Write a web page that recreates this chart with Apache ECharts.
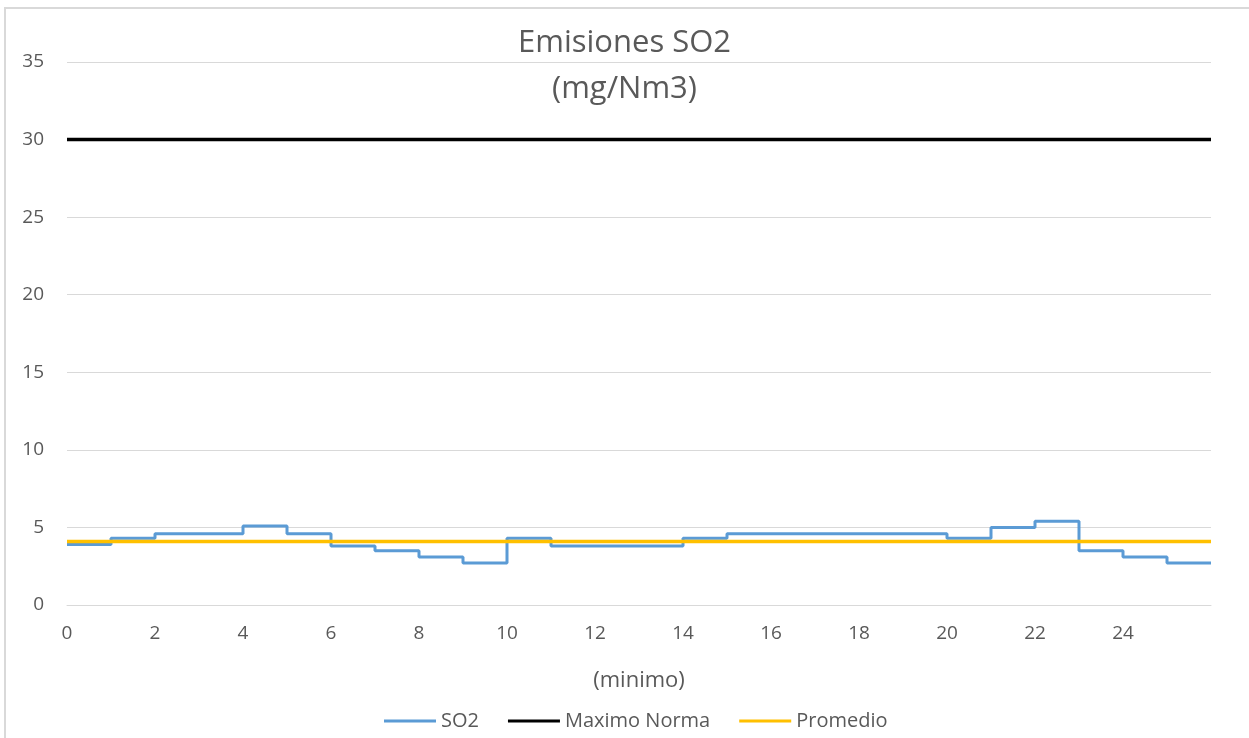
<!DOCTYPE html>
<html>
<head>
<meta charset="utf-8">
<script src="https://cdn.jsdelivr.net/npm/echarts@6/dist/echarts.min.js"></script>
<style>
html,body{margin:0;padding:0;background:#fff;}
#c{width:1249px;height:738px;}
</style>
</head>
<body>
<div id="c"></div>
<script>
// Data
const minutes = [0,1,2,3,4,5,6,7,8,9,10,11,12,13,14,15,16,17,18,19,20,21,22,23,24,25,26];
const so2 =     [3.9,4.3,4.6,4.6,5.1,4.6,3.8,3.5,3.1,2.7,4.3,3.8,3.8,3.8,4.3,4.6,4.6,4.6,4.6,4.6,4.3,5.0,5.4,3.5,3.1,2.7,2.7];
const maximoNorma = 30;
const promedio = 4.1;
const yTicks = [0,5,10,15,20,25,30,35];
const xStart = 0, xEnd = 26;

const font = '"Open Sans", Lato, sans-serif';
const chart = echarts.init(document.getElementById('c'));
chart.setOption({
  animation: false,
  backgroundColor: '#fff',
  graphic: [{
    type: 'rect', shape: {x: 5, y: 8, width: 1300, height: 800},
    style: {fill: 'none', stroke: '#d9d9d9', lineWidth: 2}, z: -10
  }],
  title: {
    text: 'Emisiones SO2\n(mg/Nm3)',
    left: 'center', top: 15,
    textStyle: {fontFamily: font, fontSize: 31, fontWeight: 'normal', color: '#595959', lineHeight: 46}
  },
  legend: {
    bottom: 2, left: 379,
    itemWidth: 52, itemHeight: 3, itemGap: 29,
    textStyle: {fontFamily: font, fontSize: 20, color: '#595959'},
    data: [
      {name: 'SO2', icon: 'rect'},
      {name: 'Maximo Norma', icon: 'rect'},
      {name: 'Promedio', icon: 'rect'}
    ]
  },
  grid: {left: 67, right: 38, top: 62, bottom: 133, containLabel: false},
  xAxis: {
    type: 'value', min: xStart, max: xEnd, interval: 2,
    name: '(minimo)', nameLocation: 'middle', nameGap: 65,
    nameTextStyle: {fontFamily: font, fontSize: 22, color: '#595959'},
    axisLine: {show: true, lineStyle: {color: '#d9d9d9', width: 1}},
    axisTick: {show: false},
    splitLine: {show: false},
    axisLabel: {fontFamily: font, fontSize: 19, color: '#595959', margin: 19, showMaxLabel: false}
  },
  yAxis: {
    type: 'value', min: yTicks[0], max: yTicks[yTicks.length-1], interval: 5,
    axisLine: {show: false}, axisTick: {show: false},
    splitLine: {lineStyle: {color: '#d9d9d9', width: 1}},
    axisLabel: {fontFamily: font, fontSize: 19, color: '#595959', margin: 23}
  },
  series: [
    {
      name: 'SO2', type: 'line', step: 'end', showSymbol: false,
      data: minutes.map((m, i) => [m, so2[i]]),
      lineStyle: {color: '#5B9BD5', width: 3}, itemStyle: {color: '#5B9BD5'}, z: 3
    },
    {
      name: 'Maximo Norma', type: 'line', showSymbol: false,
      data: [[xStart, maximoNorma], [xEnd, maximoNorma]],
      lineStyle: {color: '#000000', width: 3.5}, itemStyle: {color: '#000000'}, z: 4
    },
    {
      name: 'Promedio', type: 'line', showSymbol: false,
      data: [[xStart, promedio], [xEnd, promedio]],
      lineStyle: {color: '#FFC000', width: 3.5}, itemStyle: {color: '#FFC000'}, z: 5
    }
  ]
});
</script>
</body>
</html>
